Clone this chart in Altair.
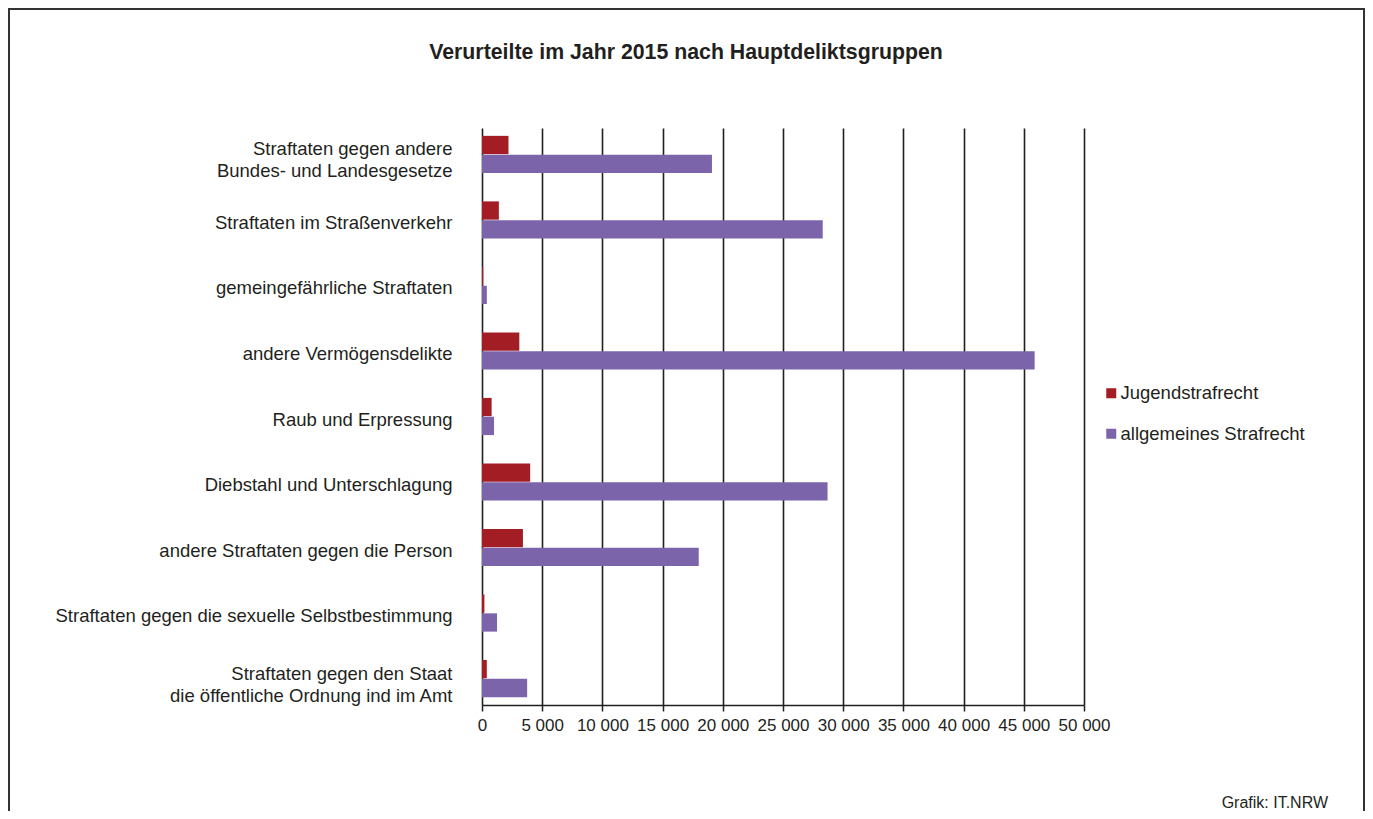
import altair as alt
import pandas as pd

categories = [
    "Straftaten gegen andere\nBundes- und Landesgesetze",
    "Straftaten im Straßenverkehr",
    "gemeingefährliche Straftaten",
    "andere Vermögensdelikte",
    "Raub und Erpressung",
    "Diebstahl und Unterschlagung",
    "andere Straftaten gegen die Person",
    "Straftaten gegen die sexuelle Selbstbestimmung",
    "Straftaten gegen den Staat\ndie öffentliche Ordnung ind im Amt",
]
series = ["Jugendstrafrecht", "allgemeines Strafrecht"]
jugend = [2200, 1400, 100, 3100, 800, 4000, 3400, 200, 400]
allgemein = [19100, 28300, 400, 45900, 1000, 28700, 18000, 1250, 3750]
x_ticks = [0, 5000, 10000, 15000, 20000, 25000, 30000, 35000, 40000, 45000, 50000]
colors = ["#a31d24", "#7b64aa"]

title_text = "Verurteilte im Jahr 2015 nach Hauptdeliktsgruppen"
footer_text = "Grafik: IT.NRW"

rows = []
for c, j, a in zip(categories, jugend, allgemein):
    rows.append({"Kategorie": c, "Reihe": series[0], "Wert": j})
    rows.append({"Kategorie": c, "Reihe": series[1], "Wert": a})
df = pd.DataFrame(rows)

FONT = "Liberation Sans"
TXT = "#231f20"
W, H = 602, 577

bars = alt.Chart(df).mark_bar().encode(
    x=alt.X("Wert:Q",
            scale=alt.Scale(domain=[0, 50000], nice=False, zero=True),
            axis=alt.Axis(values=x_ticks, title=None, grid=True, gridColor="#231f20",
                          gridWidth=1.6, gridOpacity=1, domainColor="#231f20", domainWidth=1.5,
                          tickColor="#231f20", tickSize=6, tickWidth=1.5, labelPadding=6,
                          labelFontSize=17, labelFont=FONT, labelColor=TXT,
                          labelExpr="replace(format(datum.value, ',d'), ',', ' ')",
                          labelFlush=False)),
    y=alt.Y("Kategorie:N", sort=categories,
            scale=alt.Scale(paddingInner=0.433, paddingOuter=0.12),
            axis=alt.Axis(title=None, domain=False, ticks=False, labelPadding=30,
                          labelFontSize=18.5, labelFont=FONT, labelColor=TXT, labelLimit=600,
                          labelLineHeight=22,
                          labelOffset={"condition": {"test": "indexof(datum.value, '\\n') >= 0",
                                                     "value": -5},
                                       "value": 3},
                          labelExpr="split(datum.label, '\\n')")),
    yOffset=alt.YOffset("Reihe:N", sort=series, scale=alt.Scale(paddingInner=0.03)),
    color=alt.Color("Reihe:N", sort=series,
                    scale=alt.Scale(domain=series, range=colors),
                    legend=alt.Legend(title=None, orient="none", legendX=620, legendY=256,
                                      symbolType="square", symbolSize=100, symbolStrokeWidth=0,
                                      labelFontSize=18.5, labelFont=FONT, labelColor=TXT,
                                      labelLimit=400, rowPadding=21.5, labelOffset=0)),
)

dummy = pd.DataFrame({"a": [0]})

title = alt.Chart(dummy).mark_text(text=title_text, font=FONT, fontSize=21.3, fontWeight="bold",
                                   color=TXT, align="center", baseline="middle").encode(
    x=alt.value(204), y=alt.value(-75))

footer = alt.Chart(dummy).mark_text(text=footer_text, font=FONT, fontSize=16,
                                    color=TXT, align="right", baseline="middle").encode(
    x=alt.value(846), y=alt.value(675))

border = alt.Chart(dummy).mark_rect(fill=None, stroke="#333333", strokeWidth=2).encode(
    x=alt.value(-473), x2=alt.value(882), y=alt.value(-119), y2=alt.value(720))

chart = alt.layer(border, bars, title, footer).properties(
    width=W, height=H,
    background="white",
    padding={"left": 474, "top": 120, "right": 281, "bottom": 106},
    autosize=alt.AutoSizeParams(type="none"),
).configure_view(strokeWidth=0, stroke="transparent")

chart.save("out.html", embed_options={"renderer": "svg", "actions": False})
